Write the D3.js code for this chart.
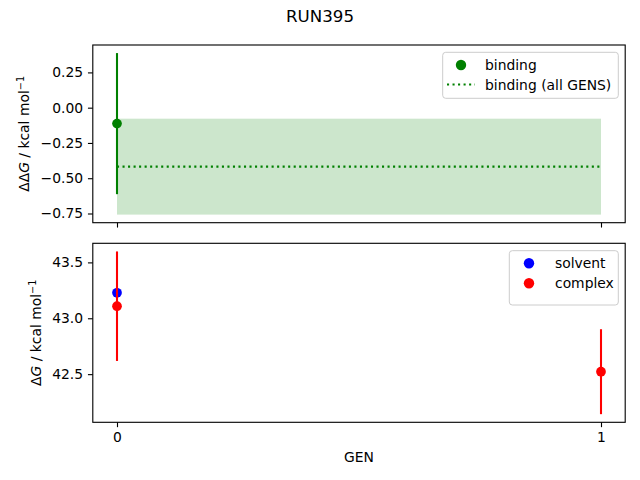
<!DOCTYPE html>
<html><head><meta charset="utf-8">
<script src="https://cdn.jsdelivr.net/npm/d3@7"></script>
<style>body{margin:0;background:#fff}text{font-family:"DejaVu Sans",sans-serif;fill:#000}</style>
</head><body>
<svg id="c" width="640" height="480"></svg>
<script>
// ---- data ----
const gens = [0, 1];
const title = "RUN395";
const bindingGen = [0];
const bindingVal = [-0.113];
const bindingErr = [0.50];
const bindingAllMean = -0.418;
const bindingAllErr = 0.34;
const solventGen = [0];
const solventVal = [43.228];
const complexGen = [0, 1];
const complexVal = [43.108, 42.522];
const complexErr = [0.49, 0.38];
const topTicks = [0.25, 0.00, -0.25, -0.50, -0.75];
const botTicks = [43.5, 43.0, 42.5];

const svg = d3.select("#c");
const L = 92.8, R = 625.2;
const top1 = [45, 222.7], top2 = [243.3, 422.3];
const pt = 100/72;
const fs = 10*pt;
const mr = 3.5*pt;   // point marker radius
const lr = 3.75*pt;  // legend scatter marker radius

function pad(lo, hi){const m=(hi-lo)*0.05;return [lo-m, hi+m];}
const x = d3.scaleLinear().domain(pad(0,1)).range([L,R]);

const tlo = Math.min(bindingAllMean-bindingAllErr, ...bindingVal.map((v,i)=>v-bindingErr[i]));
const thi = Math.max(bindingAllMean+bindingAllErr, ...bindingVal.map((v,i)=>v+bindingErr[i]));
const y1 = d3.scaleLinear().domain(pad(tlo,thi)).range([top1[1], top1[0]]);
const blo = Math.min(...complexVal.map((v,i)=>v-complexErr[i]), ...solventVal);
const bhi = Math.max(...complexVal.map((v,i)=>v+complexErr[i]), ...solventVal);
const y2 = d3.scaleLinear().domain(pad(blo,bhi)).range([top2[1], top2[0]]);

const tickLen = 3.5*pt;
function axes(g, y, ticks, fmt, showX){
  const xa = d3.axisBottom(x).tickValues(gens).tickSize(tickLen).tickPadding(3.5*pt).tickFormat(showX?d3.format("d"):"");
  const ya = d3.axisLeft(y).tickValues(ticks).tickSize(tickLen).tickPadding(3.5*pt).tickFormat(fmt);
  const gx = g.append("g").attr("transform",`translate(0,${y.range()[0]})`).call(xa);
  const gy = g.append("g").attr("transform",`translate(${L},0)`).call(ya);
  [gx,gy].forEach(a=>{a.select(".domain").remove();a.selectAll("line").attr("stroke","#000").attr("stroke-width",0.8*pt);
    a.selectAll("text").attr("font-size",fs).attr("font-family","DejaVu Sans").attr("fill","#000");});
  g.append("rect").attr("x",L).attr("y",y.range()[1]).attr("width",R-L).attr("height",y.range()[0]-y.range()[1])
   .attr("fill","none").attr("stroke","#000").attr("stroke-width",0.8*pt);
}
const fmt2 = v => d3.format(".2f")(v).replace("-","\u2212");
const fmt1 = v => d3.format(".1f")(v).replace("-","\u2212");

// ---- top panel ----
const g1 = svg.append("g");
g1.append("rect").attr("x",x(0)).attr("width",x(1)-x(0))
  .attr("y",y1(bindingAllMean+bindingAllErr)).attr("height",y1(bindingAllMean-bindingAllErr)-y1(bindingAllMean+bindingAllErr))
  .attr("fill","green").attr("fill-opacity",0.2);
g1.append("line").attr("x1",x(0)).attr("x2",x(1)).attr("y1",y1(bindingAllMean)).attr("y2",y1(bindingAllMean))
  .attr("stroke","green").attr("stroke-width",1.5*pt).attr("stroke-dasharray",`${1.5*pt} ${2.475*pt}`);
bindingGen.forEach((gg,i)=>{
  g1.append("line").attr("x1",x(gg)).attr("x2",x(gg)).attr("y1",y1(bindingVal[i]-bindingErr[i])).attr("y2",y1(bindingVal[i]+bindingErr[i]))
    .attr("stroke","green").attr("stroke-width",1.5*pt);
  g1.append("circle").attr("cx",x(gg)).attr("cy",y1(bindingVal[i])).attr("r",mr).attr("fill","green");
});
axes(g1, y1, topTicks, fmt2, false);

// ---- bottom panel ----
const g2 = svg.append("g");
solventGen.forEach((gg,i)=>{
  g2.append("circle").attr("cx",x(gg)).attr("cy",y2(solventVal[i])).attr("r",mr).attr("fill","blue");
});
complexGen.forEach((gg,i)=>{
  g2.append("line").attr("x1",x(gg)).attr("x2",x(gg)).attr("y1",y2(complexVal[i]-complexErr[i])).attr("y2",y2(complexVal[i]+complexErr[i]))
    .attr("stroke","red").attr("stroke-width",1.5*pt);
  g2.append("circle").attr("cx",x(gg)).attr("cy",y2(complexVal[i])).attr("r",mr).attr("fill","red");
});
axes(g2, y2, botTicks, fmt1, true);

// ---- labels ----
svg.append("text").attr("x",320).attr("y",22).attr("text-anchor","middle").attr("font-size",12*pt).text(title);
svg.append("text").attr("x",(L+R)/2).attr("y",462).attr("text-anchor","middle").attr("font-size",fs).text("GEN");

function ylabel(cx, cy, prefix){
  const t = svg.append("text").attr("transform",`translate(${cx},${cy}) rotate(-90)`).attr("text-anchor","middle").attr("font-size",fs);
  t.append("tspan").text(prefix);
  t.append("tspan").attr("font-style","italic").text("G");
  t.append("tspan").text(" / kcal mol");
  t.append("tspan").attr("font-size",fs*0.7).attr("dy",-5).text("\u22121");
}
ylabel(29, (top1[0]+top1[1])/2, "\u0394\u0394");
ylabel(41, (top2[0]+top2[1])/2, "\u0394");

// ---- legends ----
function legendBox(x0,y0,w,h){
  svg.append("rect").attr("x",x0).attr("y",y0).attr("width",w).attr("height",h).attr("rx",3).attr("ry",3)
    .attr("fill","#fff").attr("fill-opacity",0.8).attr("stroke","#ccc").attr("stroke-width",1);
}
legendBox(442.7,52.3,175.6,46);
svg.append("circle").attr("cx",461).attr("cy",65).attr("r",lr).attr("fill","green");
svg.append("text").attr("x",485).attr("y",70).attr("font-size",fs).text("binding");
svg.append("line").attr("x1",447).attr("x2",475).attr("y1",84.5).attr("y2",84.5).attr("stroke","green")
  .attr("stroke-width",1.5*pt).attr("stroke-dasharray",`${1.5*pt} ${2.475*pt}`);
svg.append("text").attr("x",485).attr("y",89.5).attr("font-size",fs).text("binding (all GENS)");

legendBox(509.3,250.7,109,54.3);
svg.append("circle").attr("cx",529).attr("cy",263.3).attr("r",lr).attr("fill","blue");
svg.append("text").attr("x",555).attr("y",268).attr("font-size",fs).text("solvent");
svg.append("circle").attr("cx",529).attr("cy",283.3).attr("r",lr).attr("fill","red");
svg.append("text").attr("x",555).attr("y",288).attr("font-size",fs).text("complex");
</script>
</body></html>
